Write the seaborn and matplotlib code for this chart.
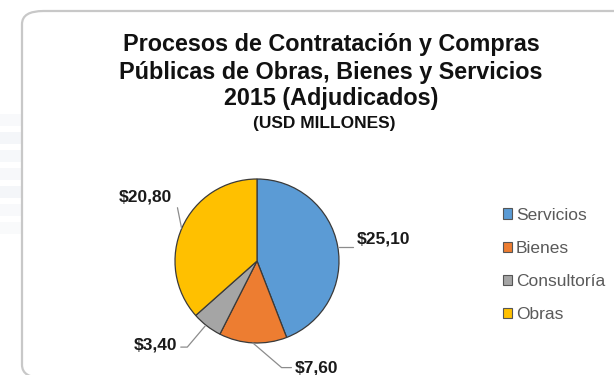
import matplotlib
matplotlib.use("Agg")
import matplotlib.pyplot as plt
import seaborn as sns
from matplotlib.patches import FancyBboxPatch, Patch

categorias = ["Servicios", "Bienes", "Consultoría", "Obras"]
valores = [25.10, 7.60, 3.40, 20.80]
etiquetas = ["$25,10", "$7,60", "$3,40", "$20,80"]
colores = ["#5B9BD5", "#ED7D31", "#A5A5A5", "#FFC000"]
titulo = ["Procesos de Contratación y Compras",
          "Públicas de Obras, Bienes y Servicios",
          "2015 (Adjudicados)"]
subtitulo = "(USD MILLONES)"

sns.set_theme(style="white")
plt.rcParams["font.family"] = ["Liberation Sans", "DejaVu Sans"]

W, H = 614, 375
fig = plt.figure(figsize=(W / 100, H / 100), dpi=100)
fig.patch.set_facecolor("white")

# faint background swoosh on the left
for y0, a in [(112, 0.06), (130, 0.09), (148, 0.08), (166, 0.07), (184, 0.09), (202, 0.06), (220, 0.05)]:
    fig.patches.append(FancyBboxPatch((0, 1 - (y0 + 14) / H), 30 / W, 12 / H,
                                      boxstyle="round,pad=0", transform=fig.transFigure,
                                      facecolor="#8fa6c4", edgecolor="none", alpha=a, zorder=0))

# rounded frame (bottom and right run past the picture edge)
frame = FancyBboxPatch((22 / W, 1 - 378 / H), 640 / W, 367 / H,
                       boxstyle="round,pad=0,rounding_size=0.035",
                       transform=fig.transFigure, facecolor="white",
                       edgecolor="#c8c8c8", linewidth=1.6, zorder=1)
fig.patches.append(frame)

# pie axes: center (257,261), radius 82 px -> axes 328 px wide, limits -2..2
cx, cy, r = 257, 261, 82
side = 4 * r
ax = fig.add_axes([(cx - side / 2) / W, (H - cy - side / 2) / H, side / W, side / H])

wedges, _ = ax.pie(valores, colors=colores, startangle=90, counterclock=False,
                   radius=1.0, wedgeprops=dict(edgecolor="#3a3a3a", linewidth=0.9))
ax.set_xlim(-2, 2)
ax.set_ylim(-2, 2)
ax.set_aspect("equal")
ax.axis("off")
ax.set_zorder(2)

# label positions (text anchor) and leader lines
text_pos = [(1.22, 0.27, "left"), (0.46, -1.31, "left"), (-0.97, -1.02, "right"), (-1.04, 0.78, "right")]
line_pts = [
    [(1.0, 0.17), (1.17, 0.17)],
    [(-0.05, -1.0), (0.30, -1.30), (0.42, -1.30)],
    [(-0.63, -0.79), (-0.85, -1.05), (-0.93, -1.05)],
    [(-0.92, 0.40), (-0.97, 0.65)],
]
for (tx, ty, ha), lab, pts in zip(text_pos, etiquetas, line_pts):
    xs = [p[0] for p in pts]
    ys = [p[1] for p in pts]
    ax.plot(xs, ys, color="#8c8c8c", linewidth=0.9, clip_on=False)
    ax.text(tx, ty, lab, ha=ha, va="center", fontsize=12.5, fontweight="bold",
            color="#1a1a1a", clip_on=False)

# title
for i, (line, yy) in enumerate(zip(titulo, [45, 72, 99])):
    fig.text(331 / W, 1 - yy / H, line, ha="center", va="center",
             fontsize=16.8, fontweight="bold", color="#111111", zorder=3)
fig.text(324 / W, 1 - 123 / H, subtitulo, ha="center", va="center",
         fontsize=12.5, fontweight="bold", color="#111111", zorder=3)

# legend
handles = [Patch(facecolor=c, edgecolor="#555555", linewidth=0.8) for c in colores]
leg = fig.legend(handles, categorias, loc="upper left",
                 bbox_to_anchor=(494 / W, 1 - 199 / H), frameon=False,
                 fontsize=12.5, handlelength=0.55, handleheight=0.55,
                 handletextpad=0.2, labelspacing=1.05, borderpad=0)
for t in leg.get_texts():
    t.set_color("#5a5a5a")
leg.set_zorder(3)

fig.savefig("out.png", dpi=100, facecolor="white")
